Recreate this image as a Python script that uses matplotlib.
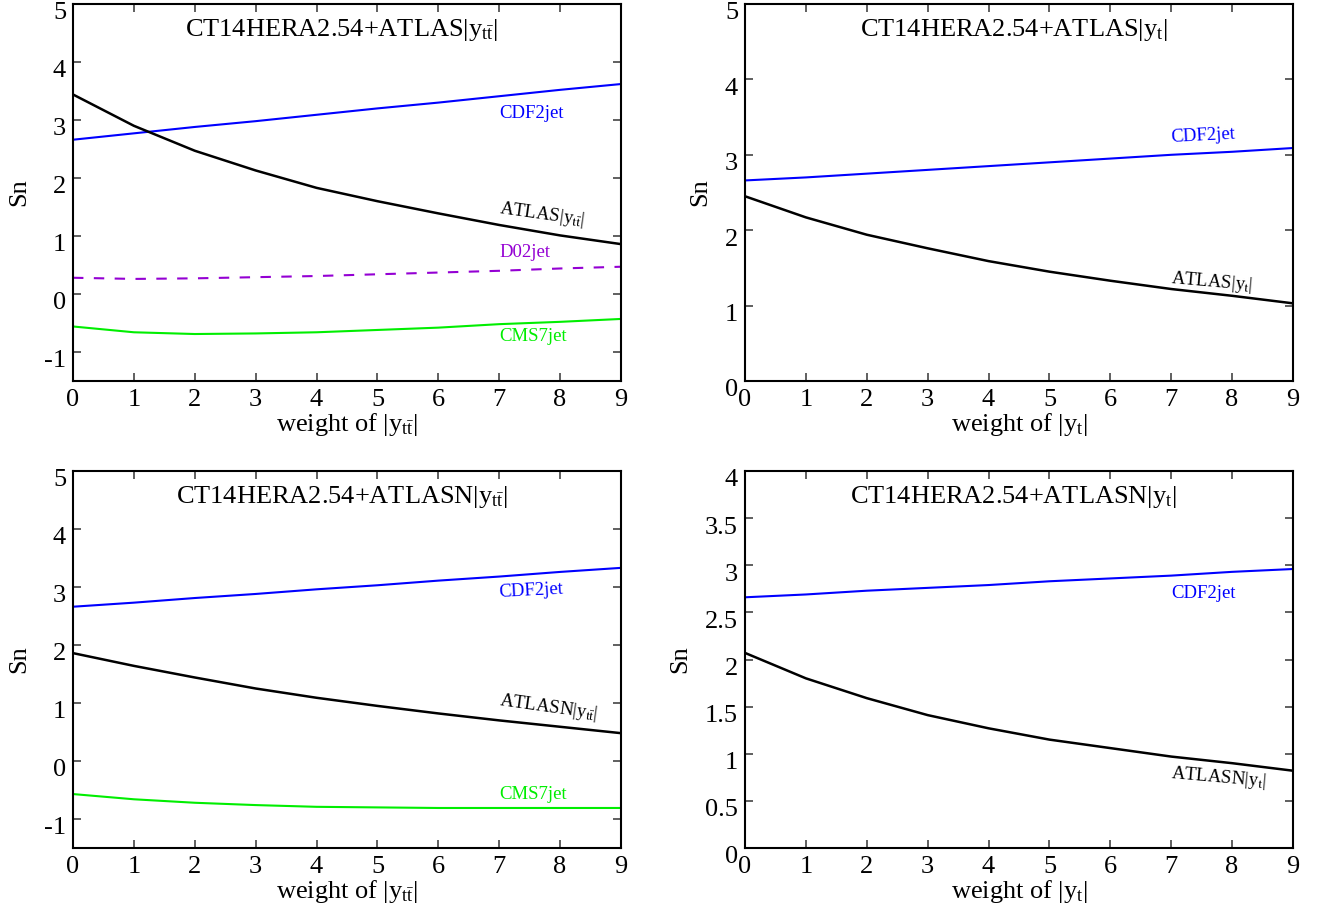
import numpy as np
import matplotlib
matplotlib.use("Agg")
import matplotlib.pyplot as plt
import matplotlib.transforms as mtransforms

plt.rcParams["font.family"] = ["Liberation Serif", "DejaVu Serif"]
plt.rcParams["mathtext.fontset"] = "custom"
plt.rcParams["mathtext.rm"] = "Liberation Serif"
plt.rcParams["mathtext.it"] = "Liberation Serif:italic"

# weight values on the x axis
weights = [0, 1, 2, 3, 4, 5, 6, 7, 8, 9]

# CT14HERA2.54 + ATLAS |y_ttbar|
a_cdf2jet = [2.66, 2.77, 2.88, 2.98, 3.09, 3.20, 3.30, 3.41, 3.52, 3.62]
a_atlas = [3.44, 2.90, 2.47, 2.13, 1.83, 1.60, 1.39, 1.19, 1.01, 0.86]
a_d02jet = [0.28, 0.26, 0.27, 0.29, 0.31, 0.34, 0.37, 0.40, 0.44, 0.47]
a_cms7jet = [-0.56, -0.66, -0.69, -0.68, -0.66, -0.62, -0.58, -0.52, -0.48, -0.43]

# CT14HERA2.54 + ATLAS |y_t|
b_cdf2jet = [2.66, 2.70, 2.75, 2.80, 2.85, 2.90, 2.95, 3.00, 3.04, 3.09]
b_atlas = [2.45, 2.17, 1.94, 1.76, 1.59, 1.45, 1.33, 1.22, 1.13, 1.03]

# CT14HERA2.54 + ATLASN |y_ttbar|
c_cdf2jet = [2.66, 2.73, 2.81, 2.88, 2.96, 3.03, 3.11, 3.18, 3.26, 3.33]
c_atlasn = [1.86, 1.64, 1.44, 1.25, 1.09, 0.95, 0.82, 0.70, 0.59, 0.48]
c_cms7jet = [-0.57, -0.66, -0.72, -0.76, -0.79, -0.80, -0.81, -0.81, -0.81, -0.81]

# CT14HERA2.54 + ATLASN |y_t|
d_cdf2jet = [2.66, 2.69, 2.73, 2.76, 2.79, 2.83, 2.86, 2.89, 2.93, 2.96]
d_atlasn = [2.07, 1.80, 1.59, 1.41, 1.27, 1.15, 1.06, 0.97, 0.90, 0.82]

YTT = r"$|\mathrm{y}_{\mathrm{t\bar{t}}}|$"
YT = r"$|\mathrm{y}_{\mathrm{t}}|$"

BLUE = "#0000ff"
GREEN = "#00ee00"
VIOLET = "#9400d3"

fig = plt.figure(figsize=(13.29, 9.16), dpi=100)

L, R = 73 / 1329, 745 / 1329
W = 548 / 1329
TOP_B, BOT_B = 1 - 381 / 916, 1 - 848 / 916
H = 377 / 916

ax1 = fig.add_axes([L, TOP_B, W, H])
ax2 = fig.add_axes([R, TOP_B, W, H])
ax3 = fig.add_axes([L, BOT_B, W, H])
ax4 = fig.add_axes([R, BOT_B, W, H])

# y tick labels sit a little below their ticks
shift = mtransforms.ScaledTranslation(0, -5 / 72, fig.dpi_scale_trans)


def style(ax, ylim, yticks, title, xlab):
    ax.set_xlim(0, 9)
    ax.set_ylim(*ylim)
    ax.set_xticks(weights)
    ax.set_yticks(yticks)
    ax.set_yticklabels(["%g" % v for v in yticks])
    ax.tick_params(direction="in", top=True, right=True, length=6, width=1.2,
                   labelsize=19, color="#444444")
    ax.tick_params(axis="x", pad=6)
    ax.tick_params(axis="y", pad=5)
    for t in ax.get_yticklabels():
        t.set_transform(t.get_transform() + shift)
    for s in ax.spines.values():
        s.set_linewidth(1.5)
    ax.set_xlabel("weight of " + xlab, fontsize=19, labelpad=0)
    ax.set_ylabel("Sn", fontsize=19, labelpad=10)
    ax.text(0.49, 0.965, title, transform=ax.transAxes, ha="center", va="top",
            fontsize=19)


def lab(ax, x, y, s, color, rot=0):
    ax.text(x, y, s, color=color, fontsize=13.5, ha="left", va="center",
            rotation=rot, rotation_mode="anchor")


# top left
ax1.plot(weights, a_cdf2jet, color=BLUE, lw=1.5)
ax1.plot(weights, a_atlas, color="k", lw=1.8)
ax1.plot(weights, a_d02jet, color=VIOLET, lw=1.5, ls=(0, (5, 5)))
ax1.plot(weights, a_cms7jet, color=GREEN, lw=1.5)
style(ax1, (-1.5, 5), [-1, 0, 1, 2, 3, 4, 5],
      "CT14HERA2.54+ATLAS" + YTT, YTT)
lab(ax1, 7.0, 3.11, "CDF2jet", BLUE)
lab(ax1, 7.0, 1.48, "ATLAS" + YTT, "k", rot=-8)
lab(ax1, 7.0, 0.72, "D02jet", VIOLET)
lab(ax1, 7.0, -0.73, "CMS7jet", GREEN)

# top right
ax2.plot(weights, b_cdf2jet, color=BLUE, lw=1.5)
ax2.plot(weights, b_atlas, color="k", lw=1.8)
style(ax2, (0, 5), [0, 1, 2, 3, 4, 5],
      "CT14HERA2.54+ATLAS" + YT, YT)
lab(ax2, 7.0, 3.23, "CDF2jet", BLUE, rot=3)
lab(ax2, 7.0, 1.36, "ATLAS" + YT, "k", rot=-5)

# bottom left
ax3.plot(weights, c_cdf2jet, color=BLUE, lw=1.5)
ax3.plot(weights, c_atlasn, color="k", lw=1.8)
ax3.plot(weights, c_cms7jet, color=GREEN, lw=1.5)
style(ax3, (-1.5, 5), [-1, 0, 1, 2, 3, 4, 5],
      "CT14HERA2.54+ATLASN" + YTT, YTT)
lab(ax3, 7.0, 2.9, "CDF2jet", BLUE, rot=3)
lab(ax3, 7.0, 1.04, "ATLASN" + YTT, "k", rot=-8)
lab(ax3, 7.0, -0.57, "CMS7jet", GREEN)

# bottom right
ax4.plot(weights, d_cdf2jet, color=BLUE, lw=1.5)
ax4.plot(weights, d_atlasn, color="k", lw=1.8)
style(ax4, (0, 4), [0, 0.5, 1, 1.5, 2, 2.5, 3, 3.5, 4],
      "CT14HERA2.54+ATLASN" + YT, YT)
lab(ax4, 7.0, 2.7, "CDF2jet", BLUE)
lab(ax4, 7.0, 0.79, "ATLASN" + YT, "k", rot=-5)

fig.savefig("out.png", dpi=100)
